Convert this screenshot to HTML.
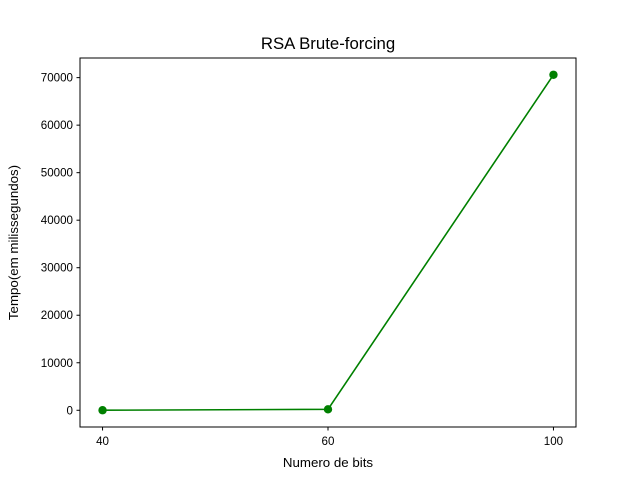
<!DOCTYPE html>
<html><head><meta charset="utf-8"><style>
body{margin:0;background:#fff}
svg text{font-family:"Liberation Sans","DejaVu Sans",sans-serif;fill:#000}
</style></head><body>
<svg id="chart" width="640" height="480" xmlns="http://www.w3.org/2000/svg">
<rect width="640" height="480" fill="#fff"/>
<text x="328" y="49" font-size="16.8" text-anchor="middle">RSA Brute-forcing</text>
<g id="ticks"></g>
<g id="series"></g>
<rect x="80" y="58" width="496" height="369" fill="none" stroke="#000" stroke-width="1"/>
<text x="328" y="467" font-size="13.3" text-anchor="middle">Numero de bits</text>
<text transform="translate(18,242.5) rotate(-90)" font-size="13.3" text-anchor="middle">Tempo(em milissegundos)</text>
</svg>
<script>
const categories = ["40","60","100"];
const values = [10, 200, 70600];
const yTicks = [0,10000,20000,30000,40000,50000,60000,70000];

const L=80,R=576,T=58,B=427;
const n=categories.length;
const xMin=-0.05*(n-1), xMax=(n-1)*1.05;
const vMin=Math.min(...values), vMax=Math.max(...values);
const pad=(vMax-vMin)*0.05;
const yMin=vMin-pad, yMax=vMax+pad;
const xs=i=>L+(i-xMin)/(xMax-xMin)*(R-L);
const ys=v=>B-(v-yMin)/(yMax-yMin)*(B-T);
const NS="http://www.w3.org/2000/svg";
const tg=document.getElementById('ticks'), sg=document.getElementById('series');
function mk(tag,attrs,parent){const e=document.createElementNS(NS,tag);for(const k in attrs)e.setAttribute(k,attrs[k]);parent.appendChild(e);return e;}
categories.forEach((c,i)=>{
  const x=xs(i);
  const t=mk('line',{x1:x,x2:x,y1:B,y2:B+3.5,stroke:'#000'},tg);
  
  
  const l=mk('text',{x:x,y:B+18,'font-size':'11.6','text-anchor':'middle'},tg);
  
  
  l.textContent=c;
});
yTicks.forEach(v=>{
  const y=ys(v);
  const t=mk('line',{x1:L-3.5,x2:L,y1:y,y2:y,stroke:'#000'},tg);
  
  
  const l=mk('text',{x:L-7,y:y+4,'font-size':'11.6','text-anchor':'end'},tg);
  
  
  l.textContent=v;
});
const pts=values.map((v,i)=>xs(i)+','+ys(v)).join(' ');
const pl=mk('polyline',{points:pts,fill:'none',stroke:'#008000','stroke-width':1.6},sg);


values.forEach((v,i)=>{
  const c=mk('circle',{cx:xs(i),cy:ys(v),r:4.2,fill:'#008000'},sg);
  
  
});
</script>
</body></html>
